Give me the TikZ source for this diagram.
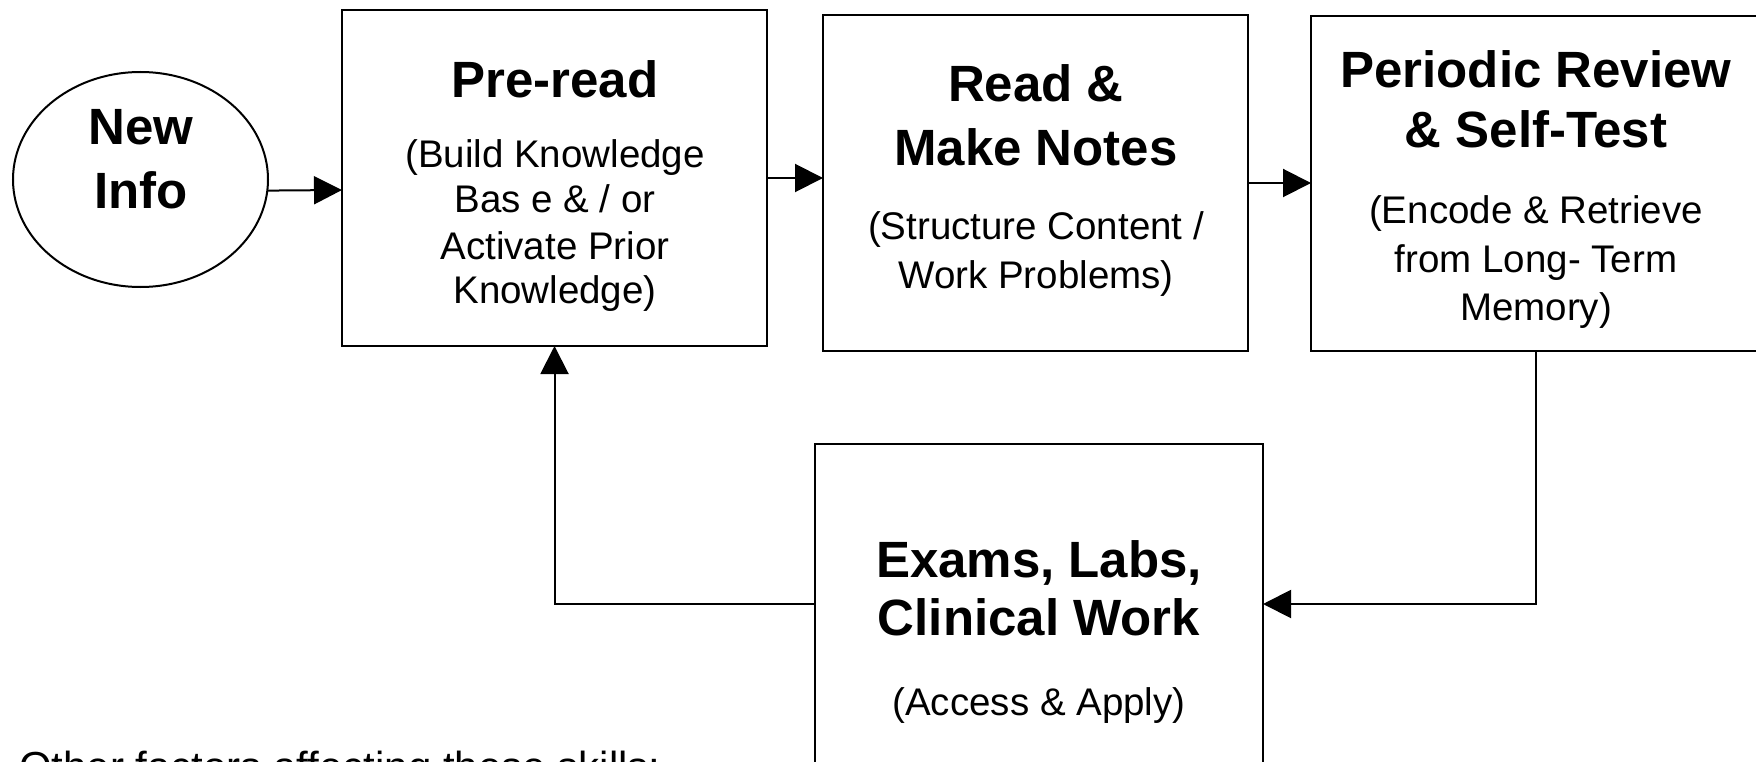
\documentclass[tikz,border=0pt]{standalone}
\usepackage{fontspec}
\setmainfont{Liberation Sans}
\usetikzlibrary{arrows.meta,shapes.geometric}
\tikzset{
  box/.style={draw, line width=2pt, rectangle, inner sep=0pt, outer sep=0pt},
  oval/.style={draw, line width=2pt, ellipse, inner sep=0pt, outer sep=0pt},
  ttl/.style={font=\fontsize{51}{58}\selectfont\bfseries, anchor=base, inner sep=0pt},
  sub/.style={font=\fontsize{38.5}{45}\selectfont, anchor=base, inner sep=0pt},
  note/.style={font=\fontsize{42}{48}\selectfont, anchor=base west, inner sep=0pt},
  arr/.style={line width=2pt, -{Triangle[length=28pt,width=28pt]}}
}
\begin{document}
\begin{tikzpicture}[x=1pt,y=-1pt]
\useasboundingbox (0,0) rectangle (1756,762);
\clip (0,0) rectangle (1756,762);
\fill[white] (0,0) rectangle (1756,762);

% shapes
\node[oval, minimum width=255pt, minimum height=215pt] (new) at (140.5,179.5) {};
\node[box, minimum width=425pt, minimum height=336pt] (pre) at (554.5,178) {};
\node[box, minimum width=425pt, minimum height=336pt] (read) at (1035.5,183) {};
\node[box, minimum width=450pt, minimum height=335pt] (per) at (1536,183.5) {};
\node[box, minimum width=448pt, minimum height=320pt] (exam) at (1039,604) {};

% texts
\node[ttl] (newA) at (141,145) {New};
\node[ttl] (newB) at (141,209) {Info};

\node[ttl] (preT) at (555,98) {Pre-read};
\node[sub] (preA) at (555,168) {(Build Knowledge};
\node[sub] (preB) at (555,213) {Bas e \& / or};
\node[sub] (preC) at (555,259) {Activate Prior};
\node[sub] (preD) at (555,303) {Knowledge)};

\node[ttl] (readT1) at (1036,102) {Read \&};
\node[ttl] (readT2) at (1036,166) {Make Notes};
\node[sub] (readA) at (1036,240) {(Structure Content /};
\node[sub] (readB) at (1036,288) {Work Problems)};

\node[ttl] (perT1) at (1536,88) {Periodic Review};
\node[ttl] (perT2) at (1536,148) {\& Self-Test};
\node[sub] (perA) at (1536,223) {(Encode \& Retrieve};
\node[sub] (perB) at (1536,272) {from Long- Term};
\node[sub] (perC) at (1536,320) {Memory)};

\node[ttl] (examT1) at (1039,577) {Exams, Labs,};
\node[ttl] (examT2) at (1039,635) {Clinical Work};
\node[sub] (examA) at (1039,715) {(Access \& Apply)};

\node[note] (other) at (19,781) {Other factors affecting these skills:};

% connectors
\draw[arr] (new.-5.6) -- ([yshift=-12pt]pre.west);
\draw[arr] (pre.east) -- (pre.east -| read.west);
\draw[arr] (read.east) -- (read.east -| per.west);
\draw[arr] (per.south) |- (exam.east);
\draw[arr] (exam.west) -| (pre.south);
\end{tikzpicture}
\end{document}
